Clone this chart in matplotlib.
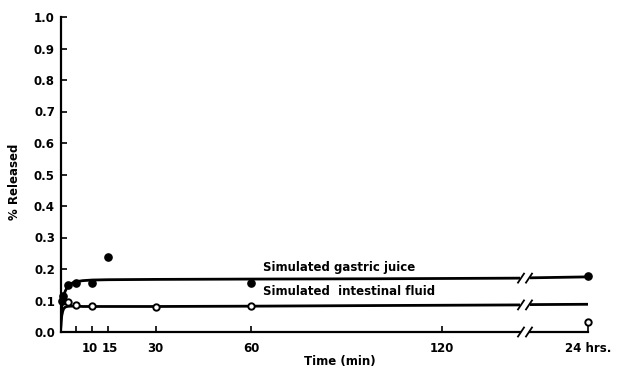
import matplotlib
matplotlib.use("Agg")
import matplotlib.pyplot as plt
import matplotlib.transforms as mtransforms
from matplotlib.lines import Line2D

# measured release (fraction), time in minutes; 24 hrs = 1440 min
gastric_t = [0.5, 0.8, 2.5, 5, 10, 15, 60, 1440]
gastric_y = [0.10, 0.115, 0.148, 0.156, 0.157, 0.237, 0.155, 0.177]
intestinal_t = [2.5, 5, 10, 30, 60, 1440]
intestinal_y = [0.094, 0.087, 0.083, 0.079, 0.083, 0.033]

# fitted curves
fit_t = [0, 0.2, 0.4, 0.7, 1, 1.5, 2, 3, 4, 5, 7, 10, 15, 30, 60, 100, 145, 1422, 1440]
gastric_fit = [0, 0.05, 0.08, 0.102, 0.116, 0.13, 0.14, 0.151, 0.157, 0.160, 0.163,
               0.165, 0.166, 0.167, 0.168, 0.169, 0.171, 0.172, 0.175]
intestinal_fit = [0, 0.035, 0.052, 0.066, 0.074, 0.079, 0.081, 0.082, 0.082, 0.082,
                  0.081, 0.081, 0.081, 0.081, 0.082, 0.084, 0.086, 0.087, 0.088]

x_ticks = [5, 10, 15, 30, 60, 120]
x_labels = ["", "10", "15", "30", "60", "120"]
y_ticks = [i / 10 for i in range(11)]
y_labels = [f"{v:.1f}" for v in y_ticks]

W, H = 621, 368
fs = 8.5
bold = dict(fontsize=fs, fontweight="bold", family="DejaVu Sans")

fig = plt.figure(figsize=(W / 100, H / 100), dpi=100)
px_min = 3.175
x0, x_brk, x_r0, x_r1 = 60.5, 520, 530, 588
y0, y1 = 332, 17

ax = fig.add_axes([x0 / W, (H - y0) / H, (x_brk - x0) / W, (y0 - y1) / H])
axr = fig.add_axes([x_r0 / W, (H - y0) / H, (x_r1 - x_r0) / W, (y0 - y1) / H])

ax.set_xlim(0, (x_brk - x0) / px_min)
axr.set_xlim(1440 - (x_r1 - x_r0) / px_min, 1440)
for a in (ax, axr):
    a.set_ylim(0, 1.0)
    a.set_facecolor("none")
    for s in ("top", "right"):
        a.spines[s].set_visible(False)
    a.spines["bottom"].set_linewidth(1.6)
    a.spines["left"].set_linewidth(1.6)
    a.tick_params(direction="in", length=4.5, width=1.2, colors="black")
    a.plot(fit_t, gastric_fit, color="black", lw=2.0, solid_capstyle="butt")
    a.plot(fit_t, intestinal_fit, color="black", lw=2.0, solid_capstyle="butt")
    a.plot(gastric_t, gastric_y, "o", ms=5.2, mfc="black", mec="black", clip_on=False)
    a.plot(intestinal_t, intestinal_y, "o", ms=4.6, mfc="white", mec="black",
           mew=1.4, clip_on=False)

axr.spines["left"].set_visible(False)
axr.set_yticks([])
axr.set_xticks([1440])
axr.set_xticklabels(["24 hrs."], **bold)
axr.tick_params(axis="x", pad=7)

ax.set_xticks(x_ticks)
ax.set_xticklabels(x_labels, **bold)
ax.set_yticks(y_ticks)
ax.set_yticklabels(y_labels, **bold)
ax.tick_params(axis="x", pad=7)
ax.tick_params(axis="y", pad=4)

# nudge the crowded 10 / 15 labels apart a little
for lab, dx in zip(ax.get_xticklabels()[1:3], (-2, 2)):
    lab.set_transform(lab.get_transform() +
                      mtransforms.ScaledTranslation(dx / 100, 0, fig.dpi_scale_trans))

ax.text(63.8, 0.206, "Simulated gastric juice", ha="left", va="center", **bold)
ax.text(63.8, 0.130, "Simulated  intestinal fluid", ha="left", va="center", **bold)

fig.text(15 / W, 1 - 182 / H, "% Released", rotation=90, ha="center", va="center", **bold)
fig.text(340 / W, 1 - 362 / H, "Time (min)", ha="center", va="center", **bold)

# break marks on the axis and on both curves
brk_levels = [0.0, gastric_fit[-3], intestinal_fit[-3]]
inv = fig.transFigure.inverted()
for lv in brk_levels:
    _, py = ax.transData.transform((0, lv))
    for bx in (x_brk + 1, x_r0 - 1):
        (fx0, fy0) = inv.transform((bx - 3, py - 4.5))
        (fx1, fy1) = inv.transform((bx + 3, py + 4.5))
        fig.add_artist(Line2D([fx0, fx1], [fy0, fy1], color="black", lw=1.3))

fig.savefig("out.png", dpi=100)
